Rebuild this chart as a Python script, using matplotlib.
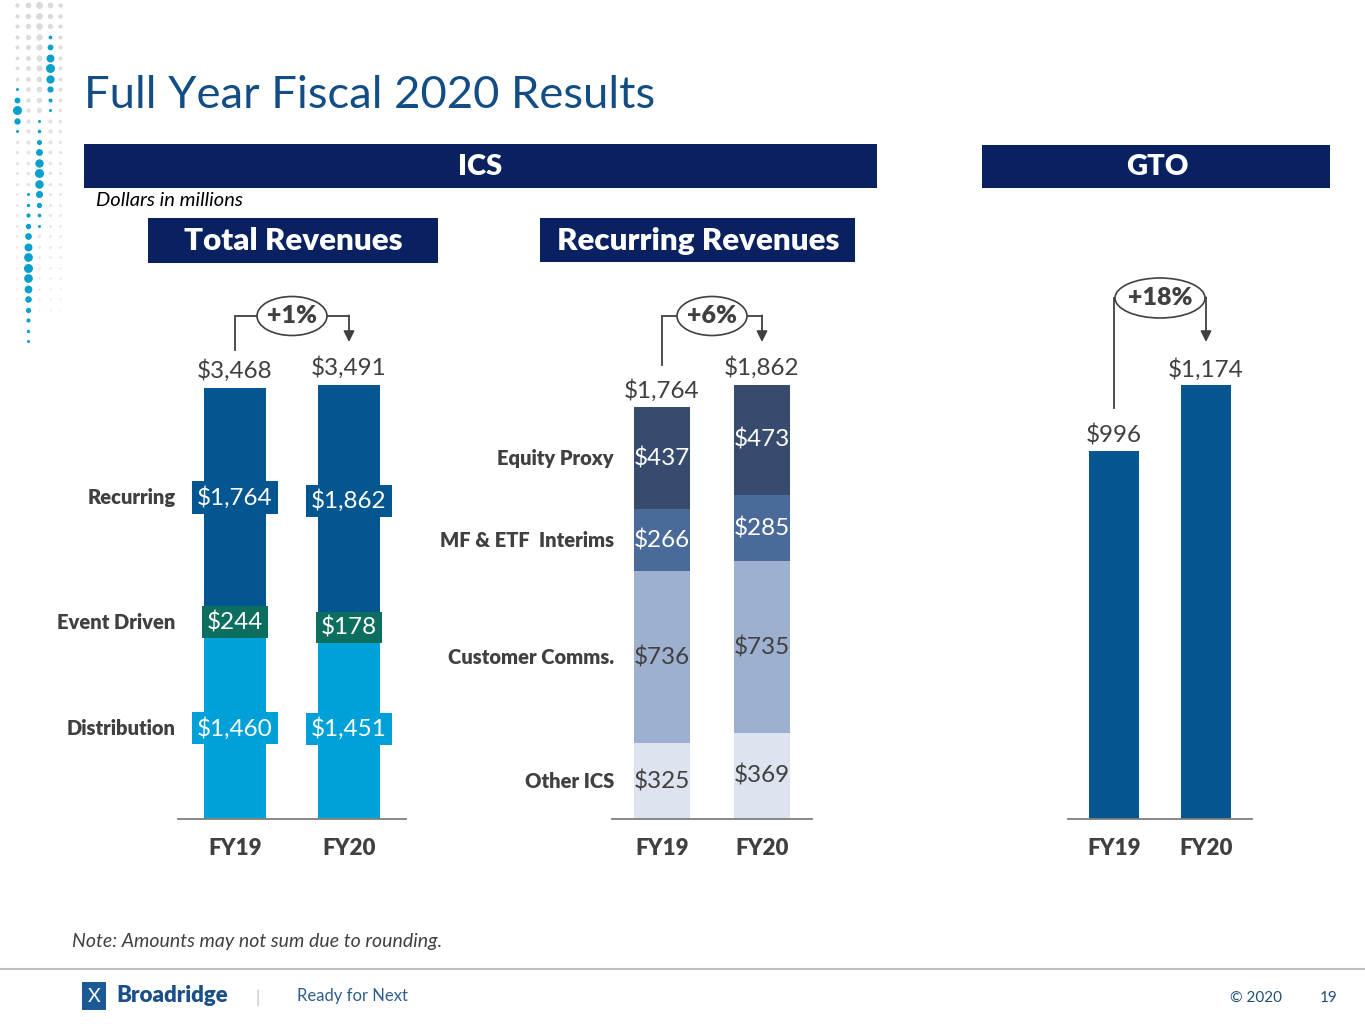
import numpy as np
import matplotlib
matplotlib.use('Agg')
import matplotlib.pyplot as plt
from matplotlib.patches import Rectangle, Ellipse

W, H = 1365, 1024
plt.rcParams['font.family'] = ['Lato', 'DejaVu Sans']

# ---- data -------------------------------------------------------------
years = ['FY19', 'FY20']

total_cats = ['Distribution', 'Event Driven', 'Recurring']
total_distribution = [1460, 1451]
total_event = [244, 178]
total_recurring = [1764, 1862]
total_sums = [3468, 3491]
total_growth = '+1%'

rec_cats = ['Other ICS', 'Customer Comms.', 'MF & ETF  Interims', 'Equity Proxy']
rec_other = [325, 369]
rec_comms = [736, 735]
rec_interims = [266, 285]
rec_proxy = [437, 473]
rec_sums = [1764, 1862]
rec_growth = '+6%'

gto_vals = [996, 1174]
gto_growth = '+18%'

# ---- style ------------------------------------------------------------
NAVY = '#0A2161'
TITLE = '#124E85'
GREY = '#404040'
BOLD = 'heavy'
total_colors = ['#00A1D8', '#0B6E5E', '#03568F']
rec_colors = ['#DDE3EF', '#9DB0CF', '#4A6A9A', '#364B6E']
rec_text = [GREY, GREY, 'white', 'white']
GTO_COLOR = '#03568F'

fig = plt.figure(figsize=(W / 100, H / 100), dpi=100)
fig.patch.set_facecolor('white')

# background axes in pixel coordinates for the slide furniture
bg = fig.add_axes([0, 0, 1, 1], zorder=0)
bg.set_xlim(0, W)
bg.set_ylim(H, 0)
bg.axis('off')

# decorative dot column on the left
cols = [17, 28, 39, 50, 60]
rows = np.arange(5, 345, 10.5)
cyan_runs = {17: (89, 132), 28: (193, 341), 39: (120, 227), 50: (27, 111)}
for cx in cols:
    for ry in rows:
        run = cyan_runs.get(cx)
        if run and run[0] <= ry <= run[1]:
            t = (ry - run[0]) / max(run[1] - run[0], 1)
            d = 3 + 6 * np.sin(np.pi * t) ** 2
            bg.scatter(cx, ry, s=(d * 0.72) ** 2, color='#0AA0CC', lw=0)
        else:
            fade = max(0.0, 1 - ry / 330)
            if fade > 0.05:
                d = 2 + 5 * fade * (1 - abs(cx - 39) / 40)
                bg.scatter(cx, ry, s=(d * 0.72) ** 2, color='#D9D9D9',
                           alpha=0.4 + 0.6 * fade, lw=0)

bg.text(84, 95, 'Full Year Fiscal 2020 Results', fontsize=32.7, color=TITLE,
        ha='left', va='center')

# header bands
bg.add_patch(Rectangle((84, 144), 793, 44, color=NAVY, lw=0))
bg.text(480, 167, 'ICS', fontsize=21, fontweight=BOLD, color='white',
        ha='center', va='center')
bg.add_patch(Rectangle((982, 145), 348, 43, color=NAVY, lw=0))
bg.text(1157, 167, 'GTO', fontsize=21, fontweight=BOLD, color='white',
        ha='center', va='center')
bg.text(96, 201, 'Dollars in millions', fontsize=14.5, style='italic',
        color='black', ha='left', va='center')

bg.add_patch(Rectangle((148, 218), 290, 45, color=NAVY, lw=0))
bg.text(293, 241, 'Total Revenues', fontsize=22.5, fontweight=BOLD,
        color='white', ha='center', va='center')
bg.add_patch(Rectangle((540, 218), 315, 44, color=NAVY, lw=0))
bg.text(698, 241, 'Recurring Revenues', fontsize=22.5, fontweight=BOLD,
        color='white', ha='center', va='center')

# footer
bg.text(72, 942, 'Note: Amounts may not sum due to rounding.', fontsize=14,
        style='italic', color=GREY, ha='left', va='center')
bg.plot([0, W], [969, 969], color='#BFBFBF', lw=1.5)
bg.add_patch(Rectangle((82, 982), 24, 28, color='#1B5A96', lw=0))
bg.text(94, 996, 'X', fontsize=14, color='white', ha='center', va='center')
bg.text(116, 996, 'Broadridge', fontsize=16, fontweight=BOLD,
        color='#1B4F8A', ha='left', va='center')
bg.text(258, 998, '|', fontsize=12, color='#BFBFBF', ha='center', va='center')
bg.text(297, 996, 'Ready for Next', fontsize=12, color='#2E5E8E',
        ha='left', va='center')
bg.text(1230, 998, '\u00a9 2020', fontsize=11, color='#1F4E79',
        ha='left', va='center')
bg.text(1320, 998, '19', fontsize=11, color='#1F4E79', ha='left', va='center')


# ---- chart axes ---------------------------------------------------------
BASE = 819
TOP = 300


def make_ax(x0, x1, scale):
    ax = fig.add_axes([x0 / W, 1 - BASE / H, (x1 - x0) / W, (BASE - TOP) / H],
                      zorder=2)
    ax.patch.set_alpha(0)
    ax.set_xlim(-0.5, 1.5)
    ax.set_ylim(0, (BASE - TOP) / scale)
    for s in ['top', 'left', 'right']:
        ax.spines[s].set_visible(False)
    ax.spines['bottom'].set_color('#7F7F7F')
    ax.spines['bottom'].set_linewidth(1.3)
    ax.set_yticks([])
    ax.set_xticks([0, 1])
    ax.set_xticklabels(years, fontsize=16, fontweight=BOLD, color=GREY)
    ax.tick_params(axis='x', length=0, pad=14)
    return ax


def to_px(ax, x, y):
    d = ax.transData.transform((x, y))
    return d[0], H - d[1]


def growth(ax, label, v0, rise, line_y, ew, eh):
    x0, top0 = to_px(ax, 0, v0)
    x1, _ = to_px(ax, 1, 0)
    xm, _ = to_px(ax, 0.5, 0)
    start = top0 - rise
    bg.plot([x0, x0, x1], [start, line_y, line_y], color=GREY, lw=1.3,
            zorder=3, solid_joinstyle='miter')
    bg.annotate('', xy=(x1, 342), xytext=(x1, line_y - 0.6),
                arrowprops=dict(arrowstyle='-|>', color=GREY, lw=1.3,
                                mutation_scale=16, shrinkA=0, shrinkB=0),
                zorder=3)
    bg.add_patch(Ellipse((xm, line_y), ew, eh, fc='white', ec=GREY, lw=1.2,
                         zorder=4))
    bg.text(xm, line_y, label, fontsize=18, fontweight=BOLD, color=GREY,
            ha='center', va='center', zorder=5)


def total_label(ax, x, v, gap=8):
    ax.annotate(f'${v:,}', xy=(x, v), xytext=(0, gap * 0.72),
                textcoords='offset points', ha='center', va='baseline',
                fontsize=17.5, color=GREY)


# Total revenues
ax1 = make_ax(178, 406, 0.1243)
x = np.arange(len(years))
bottom = np.zeros(len(years))
for cat, vals, col in zip(total_cats,
                          [total_distribution, total_event, total_recurring],
                          total_colors):
    vals = np.array(vals)
    ax1.bar(x, vals, 0.55, bottom=bottom, color=col, lw=0)
    for xi, v, b in zip(x, vals, bottom):
        ax1.text(xi, b + v / 2, f'${v:,}', ha='center', va='center',
                 fontsize=17.5, color='white',
                 bbox=dict(boxstyle='square,pad=0.2', fc=col, ec='none'))
    ax1.text(-0.5 - 0.02, bottom[0] + vals[0] / 2, cat, ha='right',
             va='center', fontsize=14.5, fontweight=BOLD, color=GREY)
    bottom += vals
for xi, v in zip(x, total_sums):
    total_label(ax1, xi, v, 10)

# Recurring revenues
ax2 = make_ax(612, 812, 0.2333)
bottom = np.zeros(len(years))
for cat, vals, col, tc in zip(rec_cats,
                              [rec_other, rec_comms, rec_interims, rec_proxy],
                              rec_colors, rec_text):
    vals = np.array(vals)
    ax2.bar(x, vals, 0.56, bottom=bottom, color=col, lw=0)
    for xi, v, b in zip(x, vals, bottom):
        ax2.text(xi, b + v / 2, f'${v:,}', ha='center', va='center',
                 fontsize=17.5, color=tc)
    ax2.text(-0.5 + 0.02, bottom[0] + vals[0] / 2, cat, ha='right',
             va='center', fontsize=14.5, fontweight=BOLD, color=GREY)
    bottom += vals
for xi, v in zip(x, rec_sums):
    total_label(ax2, xi, v, 10)

# GTO
ax3 = make_ax(1068, 1252, 0.3697)
ax3.bar(x, gto_vals, 0.54, color=GTO_COLOR, lw=0)
for xi, v in zip(x, gto_vals):
    total_label(ax3, xi, v, 8)

growth(ax1, total_growth, total_sums[0], 38, 316, 70, 39)
growth(ax2, rec_growth, rec_sums[0], 42, 316, 70, 39)
growth(ax3, gto_growth, gto_vals[0], 43, 298, 90, 40)

fig.savefig('out.png', dpi=100, facecolor='white')
